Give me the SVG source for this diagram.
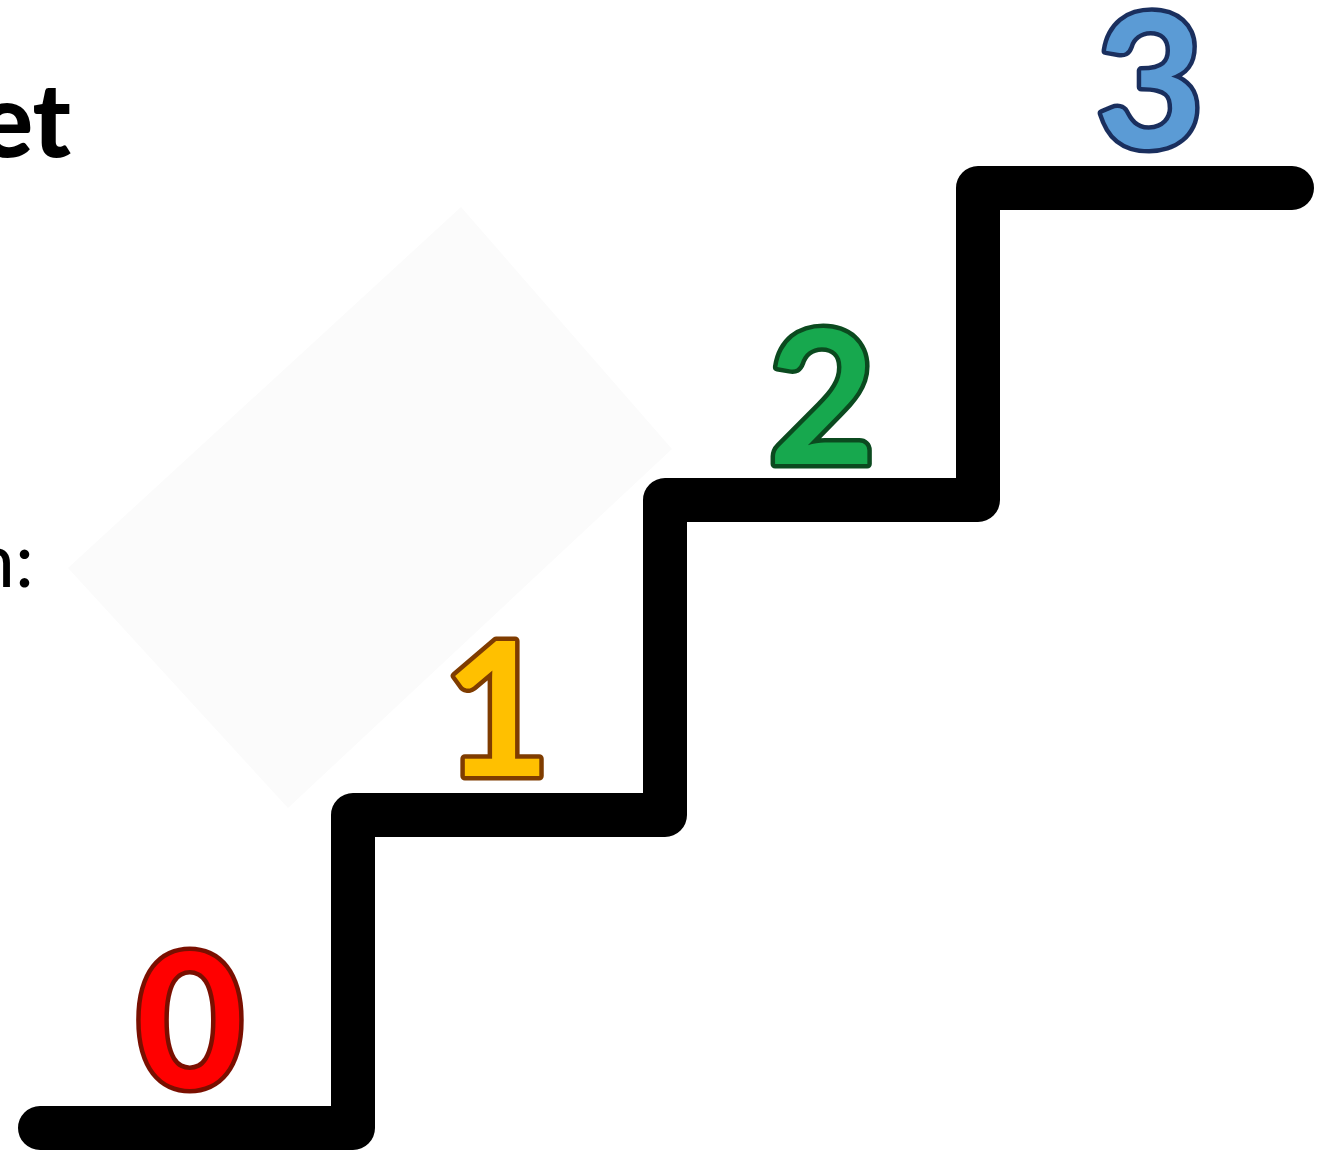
<svg xmlns="http://www.w3.org/2000/svg" width="1332" height="1153" viewBox="0 0 1332 1153">
<style>
.num{font-family:Lato,"Open Sans",sans-serif;font-weight:bold;font-size:186px;text-anchor:middle;stroke-width:9;paint-order:stroke;stroke-linejoin:round}
.lbl{font-family:Lato,"Open Sans",sans-serif;fill:#000;text-anchor:end}
</style>
<rect width="1332" height="1153" fill="#fff"/>
<polygon points="461,207 672,449 288,808 68,568" fill="#fbfbfb"/>
<text class="lbl" x="71" y="157" font-size="102" font-weight="900">et</text>
<text class="lbl" x="34" y="587" font-size="76">n:</text>
<g id="stairs">
<path d="M40,1128 H353 V815 H665 V500 H978 V188 H1292" fill="none" stroke="#000" stroke-width="44" stroke-linecap="round" stroke-linejoin="round"/>
</g>
<g id="n0"><text class="num" x="190" y="1088" fill="#ff0000" stroke="#7a0f00">0</text></g>
<g id="n1"><text class="num" x="497" y="776" fill="#ffc000" stroke="#7f3c00">1</text></g>
<g id="n2"><text class="num" x="822" y="464" fill="#17a84e" stroke="#0b4a1f">2</text></g>
<g id="n3"><text class="num" x="1150" y="148" fill="#5b9bd5" stroke="#1a2f5e">3</text></g>
</svg>
